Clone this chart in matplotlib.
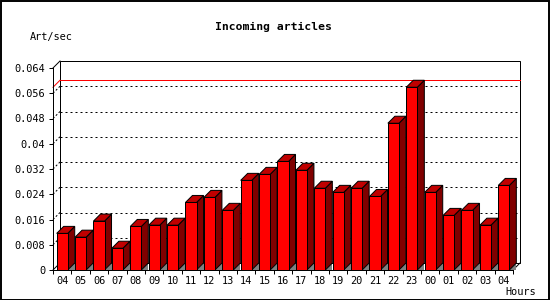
import matplotlib
matplotlib.use("Agg")
import matplotlib.pyplot as plt
from matplotlib.patches import Polygon, Rectangle

hours = ["04", "05", "06", "07", "08", "09", "10", "11", "12", "13", "14", "15", "16",
         "17", "18", "19", "20", "21", "22", "23", "00", "01", "02", "03", "04"]
values = [0.0116, 0.0104, 0.0155, 0.0069, 0.0138, 0.0142, 0.0142, 0.0214, 0.0230,
          0.0189, 0.0284, 0.0303, 0.0344, 0.0316, 0.0259, 0.0246, 0.0259, 0.0233,
          0.0465, 0.0579, 0.0246, 0.0173, 0.0189, 0.0142, 0.0268]
yticks = [0, 0.008, 0.016, 0.024, 0.032, 0.04, 0.048, 0.056, 0.064]
ytick_labels = ["0", "0.008", "0.016", "0.024", "0.032", "0.04", "0.048", "0.056", "0.064"]
max_value = max(values)

plt.rcParams['lines.scale_dashes'] = False
FONT = "DejaVu Sans Mono"
W, H = 550, 300
fig = plt.figure(figsize=(5.5, 3.0), dpi=100)
fig.patch.set_facecolor("white")

# axes frame (front plane)
L, R, B, T = 53, 513, 270, 68
ax = fig.add_axes([L / W, 1 - B / H, (R - L) / W, (B - T) / H])
ax.set_facecolor("none")
n = len(values)
ymax = 0.064
ax.set_xlim(-0.5, n - 0.5)
ax.set_ylim(0, ymax)

slot_px = (R - L) / n
val_px = (B - T) / ymax
depth_px = 7
dx = depth_px / slot_px
dy = depth_px / val_px
lw = 0.72

x0, x1 = -0.5, n - 0.5
# back wall
ax.add_patch(Rectangle((x0 + dx, dy), x1 - x0, ymax, facecolor="white",
                       edgecolor="black", lw=lw, zorder=1, clip_on=False))
# grid lines on back wall and left connectors
for v in yticks[1:-1]:
    ax.plot([x0 + dx, x1 + dx], [v + dy, v + dy], color="black", lw=lw,
            dashes=(1.44, 2.16), zorder=2, clip_on=False, solid_capstyle="butt")
    ax.plot([x0, x0 + dx], [v, v + dy], color="black", lw=lw,
            dashes=(1.44, 1.44), zorder=2, clip_on=False)
# frame diagonals
for (xa, ya) in [(x0, ymax), (x0, 0), (x1, 0)]:
    ax.plot([xa, xa + dx], [ya, ya + dy], color="black", lw=lw, zorder=2, clip_on=False)
# max line
ax.plot([x0 + dx, x1 + dx], [max_value + dy, max_value + dy], color="red",
        lw=lw, zorder=3, clip_on=False)
ax.plot([x0, x0 + dx], [max_value, max_value + dy], color="red", lw=lw,
        zorder=3, clip_on=False)

# bars
bw = 0.6
for i, v in enumerate(values):
    xl = i - bw / 2
    xr = i + bw / 2
    z = 5 + i * 0.01
    # floor shadow
    ax.add_patch(Polygon([(xr, 0), (xr + dx, 0), (xr + dx, dy)], closed=True,
                         facecolor="#808080", edgecolor="none", zorder=z, clip_on=False))
    # side
    ax.add_patch(Polygon([(xr, 0), (xr + dx, dy), (xr + dx, v + dy), (xr, v)], closed=True,
                         facecolor="#800000", edgecolor="black", lw=lw, zorder=z,
                         clip_on=False, joinstyle="miter"))
    # top
    ax.add_patch(Polygon([(xl, v), (xl + dx, v + dy), (xr + dx, v + dy), (xr, v)], closed=True,
                         facecolor="#c00000", edgecolor="black", lw=lw, zorder=z,
                         clip_on=False, joinstyle="miter"))
ax.bar(range(n), values, width=bw, color="#ff0000", edgecolor="black", lw=lw,
       zorder=6, clip_on=False)

# spines and ticks
for s in ["top", "right"]:
    ax.spines[s].set_visible(False)
for s in ["left", "bottom"]:
    ax.spines[s].set_linewidth(lw)
    ax.spines[s].set_zorder(10)
ax.set_yticks(yticks)
ax.set_yticklabels(ytick_labels, fontfamily=FONT, fontsize=7.4)
ax.tick_params(axis="y", length=2.9, width=lw, pad=2.6)
ax.set_xticks(range(n))
ax.set_xticklabels(hours, fontfamily=FONT, fontsize=7.4)
ax.set_xticks([k - 0.5 for k in range(n + 1)], minor=True)
ax.tick_params(axis="x", which="major", length=0, pad=4.5)
ax.tick_params(axis="x", which="minor", length=2.9, width=lw)

# texts
fig.text(273.5 / W, 1 - 27 / H, "Incoming articles", fontfamily=FONT, fontweight="bold",
         fontsize=8.2, ha="center", va="center")
fig.text(30 / W, 1 - 37 / H, "Art/sec", fontfamily=FONT, fontsize=7.4, ha="left", va="center")
fig.text(505 / W, 1 - 292 / H, "Hours", fontfamily=FONT, fontsize=7.4, ha="left", va="center")

# outer border
fig.add_artist(Rectangle((0.5 / W, 0.5 / H), (W - 1.5) / W, (H - 1.5) / H,
                         transform=fig.transFigure, fill=False, edgecolor="black", lw=1.4))

fig.savefig("out.png", dpi=100)
